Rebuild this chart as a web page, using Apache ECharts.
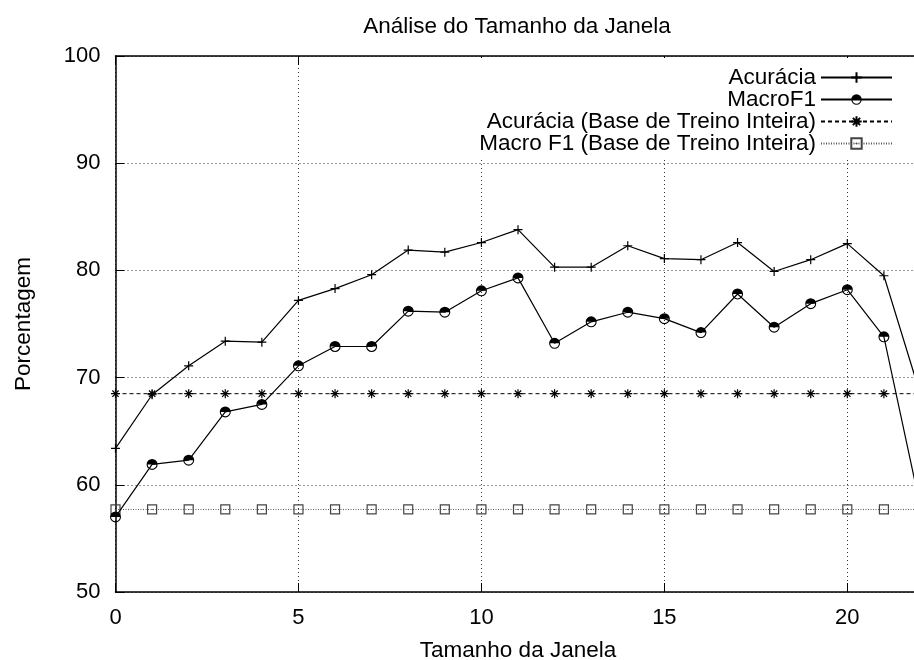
<!DOCTYPE html>
<html>
<head>
<meta charset="utf-8">
<script src="https://cdn.jsdelivr.net/npm/echarts@6/dist/echarts.min.js"></script>
<style>
  html, body { margin: 0; padding: 0; background: #fff; }
  #chart { width: 914px; height: 660px; }
</style>
</head>
<body>
<div id="chart"></div>
<script>
// Window sizes on the x axis
const windowSizes = [0, 1, 2, 3, 4, 5, 6, 7, 8, 9, 10, 11, 12, 13, 14, 15, 16, 17, 18, 19, 20, 21, 22];

// Accuracy per window size (%)
const acuracia = [63.4, 68.4, 71.1, 73.4, 73.3, 77.2, 78.3, 79.6, 81.9, 81.7, 82.6, 83.8,
                  80.3, 80.3, 82.3, 81.1, 81.0, 82.6, 79.9, 81.0, 82.5, 79.5, 68.4];

// Macro-F1 per window size (%)
const macroF1 = [57.0, 61.9, 62.3, 66.8, 67.5, 71.1, 72.9, 72.9, 76.2, 76.1, 78.1, 79.3,
                 73.2, 75.2, 76.1, 75.5, 74.2, 77.8, 74.7, 76.9, 78.2, 73.8, 57.9];

// Reference values using the whole training base
const acuraciaBase = [68.5, 68.5, 68.5, 68.5, 68.5, 68.5, 68.5, 68.5, 68.5, 68.5, 68.5, 68.5,
                      68.5, 68.5, 68.5, 68.5, 68.5, 68.5, 68.5, 68.5, 68.5, 68.5, 68.5];
const macroF1Base = [57.7, 57.7, 57.7, 57.7, 57.7, 57.7, 57.7, 57.7, 57.7, 57.7, 57.7, 57.7,
                     57.7, 57.7, 57.7, 57.7, 57.7, 57.7, 57.7, 57.7, 57.7, 57.7, 57.7];

const seriesNames = [
  'Acurácia',
  'MacroF1',
  'Acurácia (Base de Treino Inteira)',
  'Macro F1 (Base de Treino Inteira)'
];

const FONT = '"Liberation Sans", Arial, Helvetica, sans-serif';
const TEXT_SIZE = 22.5;
const TICK_SIZE = 22;

// Marker shapes
const plusSymbol = 'path://M0,5L10,5M5,0L5,10';
const halfCircleSymbol = 'path://M0,5A5,5 0 1 1 10,5A5,5 0 1 1 0,5Z M1,5A4,4 0 0 0 9,5L1,5Z';
const starSymbol = 'path://M5,0L5,10M0,5L10,5M1.5,1.5L8.5,8.5M8.5,1.5L1.5,8.5';
const boxSymbol = 'path://M0,0L10,0L10,10L0,10Z M5,4.4L5,5.6';

function pairs(ys) {
  return windowSizes.map((x, i) => [x, ys[i]]);
}

const chart = echarts.init(document.getElementById('chart'), null, { renderer: 'canvas' });

const gridLine = { show: true, lineStyle: { color: '#333', width: 1, type: [1, 3] } };

chart.setOption({
  animation: false,
  backgroundColor: '#fff',
  textStyle: { fontFamily: FONT, color: '#000' },
  title: {
    text: 'Análise do Tamanho da Janela',
    left: 512,
    top: 10,
    textAlign: 'center',
    textStyle: { fontFamily: FONT, fontSize: TEXT_SIZE, fontWeight: 'normal', color: '#000' }
  },
  legend: {
    orient: 'vertical',
    align: 'right',
    right: 13,
    top: 58,
    padding: [8, 8, 5, 2],
    itemGap: -1,
    itemWidth: 71,
    itemHeight: 13,
    backgroundColor: '#fff',
    selectedMode: false,
    textStyle: { fontFamily: FONT, fontSize: TEXT_SIZE, color: '#000' },
    data: seriesNames
  },
  // The plot frame runs a few pixels past the right edge of the canvas
  grid: { left: 115.5, top: 56, width: 805, height: 536, outerBoundsMode: 'none', containLabel: false },
  xAxis: [
    {
      type: 'value',
      min: 0, max: 22, interval: 5,
      position: 'bottom',
      name: 'Tamanho da Janela',
      nameLocation: 'middle',
      nameGap: 47,
      nameTextStyle: { fontFamily: FONT, fontSize: TEXT_SIZE, color: '#000' },
      axisLine: { show: true, onZero: false, lineStyle: { color: '#000', width: 1.5 } },
      axisTick: { show: true, inside: true, length: 9, lineStyle: { color: '#000', width: 1 } },
      axisLabel: { show: true, margin: 15, showMaxLabel: false, fontFamily: FONT, fontSize: TICK_SIZE, color: '#000' },
      splitLine: gridLine
    },
    {
      type: 'value',
      min: 0, max: 22, interval: 5,
      position: 'top',
      axisLine: { show: true, onZero: false, lineStyle: { color: '#000', width: 1.5 } },
      axisTick: { show: true, inside: true, length: 9, lineStyle: { color: '#000', width: 1 } },
      axisLabel: { show: false },
      splitLine: { show: false }
    }
  ],
  yAxis: {
    type: 'value',
    min: 50, max: 100, interval: 10,
    name: 'Porcentagem',
    nameLocation: 'middle',
    nameGap: 80,
    nameTextStyle: { fontFamily: FONT, fontSize: TEXT_SIZE, color: '#000' },
    axisLine: { show: true, onZero: false, lineStyle: { color: '#000', width: 1.5 } },
    axisTick: { show: true, inside: true, length: 9, lineStyle: { color: '#000', width: 1 } },
    axisLabel: { margin: 15, fontFamily: FONT, fontSize: TICK_SIZE, color: '#000' },
    splitLine: gridLine
  },
  series: [
    {
      name: seriesNames[0],
      type: 'line',
      data: pairs(acuracia),
      symbol: plusSymbol,
      symbolSize: 9,
      lineStyle: { color: '#000', width: 1.2 },
      itemStyle: { color: 'rgba(0,0,0,0)', borderColor: '#000', borderWidth: 1.2 },
      z: 4
    },
    {
      name: seriesNames[1],
      type: 'line',
      data: pairs(macroF1),
      symbol: halfCircleSymbol,
      symbolSize: 11,
      lineStyle: { color: '#000', width: 1.2 },
      itemStyle: { color: '#000', borderWidth: 0 },
      z: 4
    },
    {
      name: seriesNames[2],
      type: 'line',
      data: pairs(acuraciaBase),
      symbol: starSymbol,
      symbolSize: 9,
      lineStyle: { color: '#000', width: 1, type: [4, 3] },
      itemStyle: { color: 'rgba(0,0,0,0)', borderColor: '#000', borderWidth: 1.2 },
      z: 3
    },
    {
      name: seriesNames[3],
      type: 'line',
      data: pairs(macroF1Base),
      symbol: boxSymbol,
      symbolSize: 9,
      lineStyle: { color: '#555', width: 1, type: [1, 1.5] },
      itemStyle: { color: 'rgba(0,0,0,0)', borderColor: '#444', borderWidth: 1.2 },
      z: 3
    }
  ]
});
</script>
</body>
</html>
